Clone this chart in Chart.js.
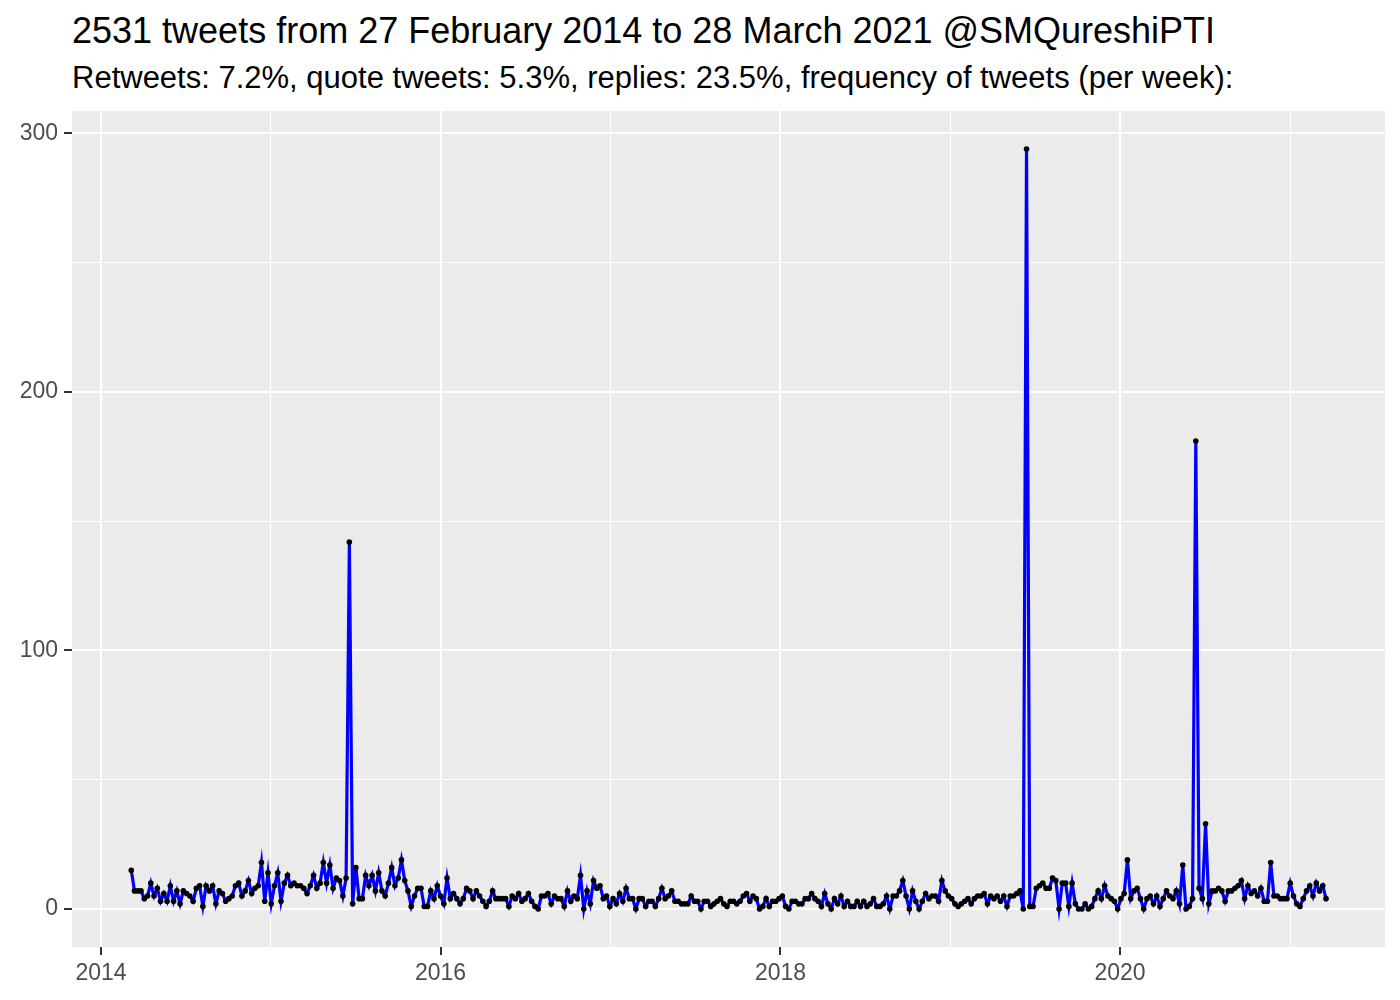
<!DOCTYPE html>
<html>
<head>
<meta charset="utf-8">
<script src="https://cdn.jsdelivr.net/npm/chart.js@4.4.1/dist/chart.umd.min.js"></script>
<style>
  html, body { margin: 0; padding: 0; background: #fff; }
  #wrap { position: relative; width: 1400px; height: 1000px; font-family: "Liberation Sans", Arial, sans-serif; }
  #title { position: absolute; left: 72px; top: 13px; font-size: 36px; line-height: 1; color: #000; white-space: nowrap; }
  #subtitle { position: absolute; left: 72px; top: 62px; font-size: 31px; line-height: 1; color: #000; white-space: nowrap; }
  canvas { position: absolute; left: 0; top: 0; }
</style>
</head>
<body>
<div id="wrap">
  <div id="title">2531 tweets from 27 February 2014 to 28 March 2021 @SMQureshiPTI</div>
  <div id="subtitle">Retweets: 7.2%, quote tweets: 5.3%, replies: 23.5%, frequency of tweets (per week):</div>
  <canvas id="tweetChart" width="1400" height="1000"></canvas>
</div>
<script>
const DAY = 86400000;
const weekStart = Date.UTC(2014, 2, 7);

// tweets per week, one value per week from weekStart
const tweetsPerWeek = [
  15, 7, 7, 7, 4, 5, 10, 5, 8, 3, 6, 3, 9, 3, 7, 2, 7, 6, 5, 3, 8, 9,
  1, 9, 7, 9, 2, 7, 6, 3,
  4, 5, 9, 10, 5, 7, 11, 6, 8, 9, 18, 3, 14, 2, 9, 14, 3, 10, 13, 9,
  10, 9, 9, 8, 6, 9, 13, 8, 10, 18,
  10, 17, 8, 12, 11, 5, 12, 142, 2, 16, 4, 4, 13, 9, 13, 7, 14, 7, 5, 10,
  16, 9, 12, 19, 11, 7, 1, 5, 8, 8, 1,
  1, 7, 4, 9, 5, 2, 12, 4, 6, 4, 2, 4, 8, 7, 4, 7, 5, 3, 1, 3,
  7, 4, 4, 4, 4, 1, 5, 4, 6, 3, 4, 6,
  3, 1, 0, 5, 5, 6, 2, 5, 4, 4, 1, 7, 3, 5, 4, 13, 0, 7, 2, 11,
  8, 9, 4, 5, 1, 4, 2, 6, 3, 8, 4,
  4, 0, 4, 4, 1, 3, 3, 1, 4, 8, 4, 5, 7, 3, 3, 2, 2, 2, 5, 3,
  3, 0, 3, 3, 1, 2, 3, 4, 2, 1, 3, 3, 2,
  3, 5, 6, 3, 5, 4, 0, 1, 4, 1, 3, 3, 4, 5, 1, 0, 3, 3, 2, 2,
  4, 4, 6, 4, 3, 1, 6, 2, 0, 4, 2,
  5, 1, 3, 1, 1, 3, 1, 3, 1, 2, 4, 1, 1, 2, 5, 0, 5, 5, 7, 11,
  5, 0, 7, 3, 0, 3, 6, 4, 5, 5, 3, 11,
  7, 5, 4, 2, 1, 2, 3, 4, 2, 4, 5, 5, 6, 2, 5, 4, 5, 3, 5, 1,
  5, 5, 6, 7, 0, 294, 1, 1, 8, 9,
  10, 8, 8, 12, 11, 0, 10, 10, 1, 10, 2, 0, 0, 2, 0, 1, 4, 7, 4, 9,
  5, 4, 3, 0, 4, 6, 19, 4, 7, 8, 4, 0,
  4, 5, 2, 5, 1, 4, 7, 5, 4, 7, 2, 17, 0, 1, 4, 181, 8, 4, 33, 2,
  7, 7, 8, 7, 3, 7, 7, 8, 9, 11, 4,
  9, 6, 7, 5, 8, 3, 3, 18, 5, 5, 4, 4, 4, 10, 5, 2, 1, 4, 7, 9,
  5, 10, 7, 9, 4
];

const yearTicks = [2014, 2015, 2016, 2017, 2018, 2019, 2020, 2021];
const majorYears = [2014, 2016, 2018, 2020];
const countTicks = [0, 50, 100, 150, 200, 250, 300];
const majorCounts = [0, 100, 200, 300];

const FONT = "'Liberation Sans', Arial, sans-serif";

const points = tweetsPerWeek.map((n, i) => ({ x: weekStart + i * 7 * DAY, y: n }));

const panelBackground = {
  id: 'panelBackground',
  beforeDraw(chart) {
    const { ctx, chartArea: a } = chart;
    ctx.save();
    ctx.fillStyle = '#EBEBEB';
    ctx.fillRect(a.left, a.top, a.right - a.left, a.bottom - a.top);
    ctx.restore();
  }
};

const yearOf = v => new Date(v).getUTCFullYear();

new Chart(document.getElementById('tweetChart').getContext('2d'), {
  type: 'line',
  data: {
    datasets: [{
      data: points,
      borderColor: '#0000FF',
      borderWidth: 3.2,
      pointRadius: 2.8,
      pointBackgroundColor: '#000',
      pointBorderWidth: 0,
      pointHoverRadius: 0,
      tension: 0
    }]
  },
  options: {
    responsive: false,
    animation: false,
    layout: { padding: { top: 111, right: 15, bottom: 0, left: 0 } },
    plugins: {
      legend: { display: false },
      tooltip: { enabled: false }
    },
    scales: {
      x: {
        type: 'linear',
        min: Date.UTC(2014, 0, 1) - 62.4 * DAY,
        max: Date.UTC(2014, 0, 1) + 2760.8 * DAY,
        afterBuildTicks: s => { s.ticks = yearTicks.map(y => ({ value: Date.UTC(y, 0, 1) })); },
        afterFit: s => { s.height = 53; },
        border: { display: false },
        grid: {
          color: '#FFFFFF',
          lineWidth: c => majorYears.includes(yearOf(c.tick.value)) ? 2 : 1,
          tickColor: c => majorYears.includes(yearOf(c.tick.value)) ? '#333333' : 'rgba(0,0,0,0)',
          tickLength: 8
        },
        ticks: {
          autoSkip: false,
          maxRotation: 0,
          padding: 5,
          color: '#4D4D4D',
          font: { family: FONT, size: 23 },
          callback: v => majorYears.includes(yearOf(v)) ? String(yearOf(v)) : ''
        }
      },
      y: {
        min: -14.7,
        max: 308.7,
        afterBuildTicks: s => { s.ticks = countTicks.map(v => ({ value: v })); },
        afterFit: s => { s.width = 72; },
        border: { display: false },
        grid: {
          color: '#FFFFFF',
          lineWidth: c => majorCounts.includes(c.tick.value) ? 2 : 1,
          tickColor: c => majorCounts.includes(c.tick.value) ? '#333333' : 'rgba(0,0,0,0)',
          tickLength: 8
        },
        ticks: {
          padding: 6,
          color: '#4D4D4D',
          font: { family: FONT, size: 23 },
          callback: v => majorCounts.includes(v) ? String(v) : ''
        }
      }
    }
  },
  plugins: [panelBackground]
});
</script>
</body>
</html>
